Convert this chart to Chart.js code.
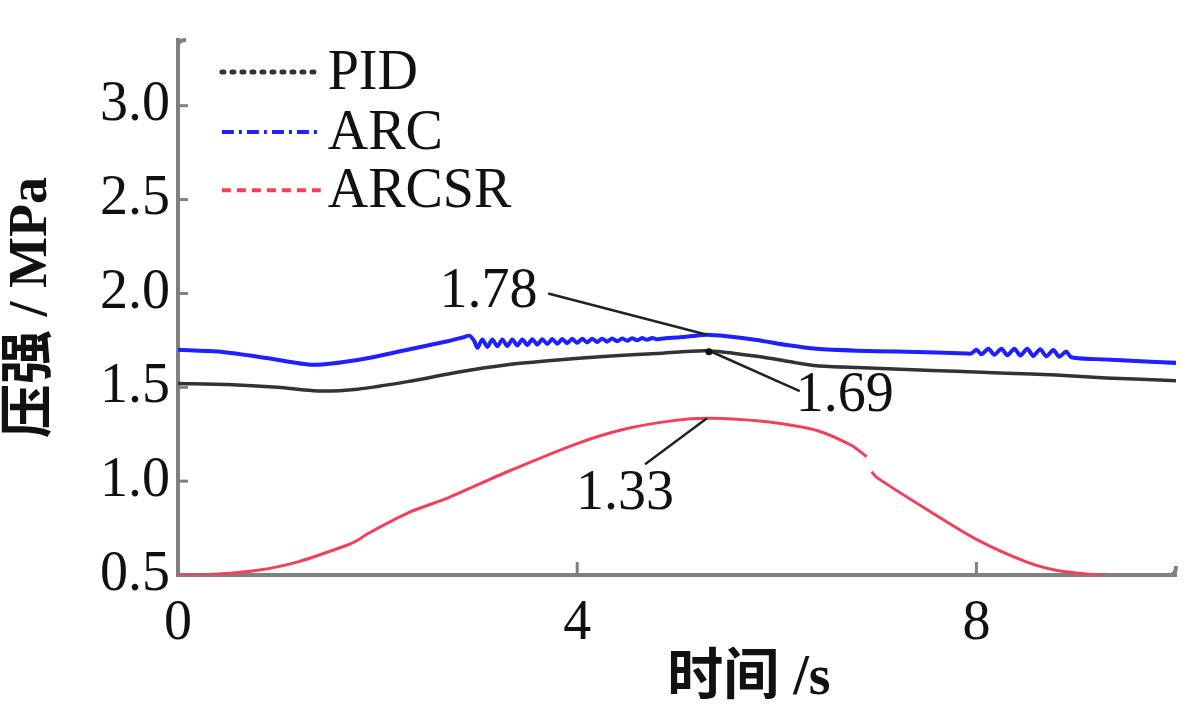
<!DOCTYPE html>
<html>
<head>
<meta charset="utf-8">
<script src="https://cdn.jsdelivr.net/npm/chart.js@4"></script>
<style>
  html, body { margin: 0; padding: 0; background: #fff; }
  #wrap { width: 1200px; height: 711px; }
</style>
</head>
<body>
<div id="wrap"><canvas id="c" width="1200" height="711"></canvas></div>
<script>
// ---------- data ----------
const seriesNames = ['PID', 'ARC', 'ARCSR'];
const xTickValues = [0, 4, 8];
const yTickValues = [0.5, 1.0, 1.5, 2.0, 2.5, 3.0];

const pidX = [0, 0.5, 1.0, 1.4, 1.8, 2.3, 2.8, 3.3, 3.8, 4.3, 4.8, 5.3, 5.8, 6.2, 6.4, 6.8, 7.3, 7.8, 8.3, 8.8, 9.3, 10];
const pidY = [1.52, 1.515, 1.50, 1.48, 1.49, 1.53, 1.58, 1.62, 1.645, 1.665, 1.68, 1.695, 1.665, 1.63, 1.615, 1.605, 1.595, 1.585, 1.575, 1.565, 1.55, 1.535];

const arcX = [0, 0.4, 0.9, 1.35, 1.8, 2.3, 2.7, 2.85, 2.92, 2.97,
  3.00, 3.05, 3.10, 3.15, 3.20, 3.25, 3.30, 3.35, 3.40, 3.45, 3.50, 3.55, 3.60, 3.65, 3.70, 3.75,
  3.80, 3.85, 3.90, 3.95, 4.00, 4.05, 4.10, 4.15, 4.20, 4.25, 4.30, 4.35, 4.40, 4.45, 4.50, 4.55,
  4.60, 4.65, 4.70, 4.75, 4.80, 4.90, 5.00, 5.15, 5.30, 5.50, 5.80, 6.10, 6.40, 6.80, 7.20, 7.60, 7.90,
  7.95, 8.00, 8.05, 8.12, 8.18, 8.25, 8.31, 8.38, 8.44, 8.51, 8.57, 8.64, 8.70, 8.77, 8.83, 8.90, 8.95,
  9.20, 9.60, 10];
const arcY = [1.70, 1.69, 1.655, 1.62, 1.645, 1.70, 1.745, 1.765, 1.775, 1.745,
  1.71, 1.755, 1.715, 1.755, 1.718, 1.755, 1.72, 1.755, 1.722, 1.755, 1.725, 1.756, 1.727, 1.756, 1.73, 1.757,
  1.732, 1.757, 1.735, 1.758, 1.737, 1.758, 1.739, 1.759, 1.741, 1.759, 1.743, 1.76, 1.745, 1.76, 1.748, 1.761,
  1.75, 1.762, 1.753, 1.763, 1.756, 1.762, 1.765, 1.773, 1.78, 1.772, 1.752, 1.725, 1.705, 1.695, 1.69, 1.685, 1.68,
  1.68, 1.70, 1.676, 1.705, 1.673, 1.705, 1.671, 1.705, 1.669, 1.705, 1.667, 1.703, 1.665, 1.698, 1.663, 1.69, 1.66,
  1.65, 1.64, 1.63];

const arcsrX = [0, 0.4, 0.8, 1.2, 1.7, 1.8, 1.9, 2.3, 2.7, 3.3, 4.0, 4.5, 5.0, 5.3, 5.6, 6.0, 6.4, 6.75, 6.9, 6.92, 6.95, 7.0, 7.5, 8.0, 8.5, 8.8, 9.1, 9.3];
const arcsrY = [0.5, 0.505, 0.525, 0.57, 0.66, 0.685, 0.72, 0.83, 0.91, 1.05, 1.20, 1.28, 1.325, 1.335, 1.33, 1.31, 1.27, 1.19, 1.13, null, 1.05, 1.02, 0.85, 0.69, 0.57, 0.525, 0.505, 0.50];

// annotation values (data units)
const noteTexts = ['1.78', '1.69', '1.33'];
const noteAnchorX = [5.3, 5.3, 5.3];
const noteAnchorY = [1.78, 1.70, 1.335];

// ---------- styles ----------
const SERIF = '"Liberation Serif", "Times New Roman", serif';
const CJK = '"Liberation Serif", "Noto Sans CJK SC", serif';
const seriesColors = ['#333333', '#1f1fff', '#f2405c'];
const seriesWidths = [3.5, 4, 3];
const legendDash = [[2, 8], [12, 5, 3, 5], [9, 6]];
const AXIS_COLOR = '#808080';
const FS = 56;

function toPoints(xs, ys) { return xs.map((x, i) => ({x: x, y: ys[i]})); }

// label layout (data-unit positions relative to the scales)
const noteLabelPos = [{x: 3.11, y: 2.005}, {x: 6.68, y: 1.45}, {x: 4.48, y: 0.93}];
const noteLeaderEnd = [{x: 3.71, y: 2.00}, {x: 6.23, y: 1.48}, {x: 4.68, y: 1.09}];

const extras = {
  id: 'extras',
  afterDatasetsDraw(chart) {
    const {ctx, chartArea: a, scales: {x, y}} = chart;
    ctx.save();
    // inward ticks
    ctx.strokeStyle = AXIS_COLOR;
    ctx.lineWidth = 3;
    yTickValues.forEach(v => {
      if (v === y.min) return;
      const py = y.getPixelForValue(v);
      ctx.beginPath(); ctx.moveTo(a.left, py); ctx.lineTo(a.left + 10, py); ctx.stroke();
    });
    xTickValues.forEach(v => {
      if (v === x.min) return;
      const px = x.getPixelForValue(v);
      ctx.beginPath(); ctx.moveTo(px, a.bottom); ctx.lineTo(px, a.bottom - 13); ctx.stroke();
    });
    // axis end hooks
    ctx.lineWidth = 4;
    ctx.beginPath(); ctx.moveTo(a.left, a.top + 6); ctx.quadraticCurveTo(a.left, a.top, a.left + 8, a.top); ctx.stroke();
    ctx.beginPath(); ctx.moveTo(a.right - 6, a.bottom); ctx.quadraticCurveTo(a.right, a.bottom, a.right, a.bottom - 9); ctx.stroke();

    // annotations
    ctx.strokeStyle = '#222';
    ctx.fillStyle = '#111';
    ctx.lineWidth = 2.5;
    ctx.font = FS + 'px ' + SERIF;
    ctx.textAlign = 'center';
    ctx.textBaseline = 'middle';
    noteTexts.forEach((t, i) => {
      const ax = x.getPixelForValue(noteAnchorX[i]), ay = y.getPixelForValue(noteAnchorY[i]);
      const ex = x.getPixelForValue(noteLeaderEnd[i].x), ey = y.getPixelForValue(noteLeaderEnd[i].y);
      ctx.beginPath(); ctx.moveTo(ex, ey); ctx.lineTo(ax, ay); ctx.stroke();
      ctx.fillText(t, x.getPixelForValue(noteLabelPos[i].x), y.getPixelForValue(noteLabelPos[i].y));
    });
    // small dot at 1.69 anchor
    ctx.beginPath();
    ctx.arc(x.getPixelForValue(noteAnchorX[1]) + 2, y.getPixelForValue(noteAnchorY[1]) + 2, 3.5, 0, Math.PI * 2);
    ctx.fill();

    // legend (inside plot, top-left)
    ctx.textAlign = 'left';
    const legendRows = [y.getPixelForValue(3.18), y.getPixelForValue(2.86), y.getPixelForValue(2.55)];
    const lx0 = x.getPixelForValue(0.44), lx1 = x.getPixelForValue(1.43), tx = x.getPixelForValue(1.5);
    chart.data.datasets.forEach((ds, i) => {
      const ly = legendRows[i];
      ctx.strokeStyle = ds.borderColor;
      ctx.lineWidth = i === 0 ? 5 : 4;
      ctx.lineCap = i === 0 ? 'round' : 'butt';
      ctx.setLineDash(legendDash[i]);
      ctx.beginPath(); ctx.moveTo(lx0, ly); ctx.lineTo(lx1, ly); ctx.stroke();
      ctx.setLineDash([]);
      ctx.fillStyle = '#111';
      ctx.fillText(ds.label, tx, ly + 2);
    });

    // x-axis title
    ctx.font = 'bold ' + FS + 'px ' + CJK;
    ctx.textAlign = 'center';
    ctx.fillText('时间 /s', x.getPixelForValue(5.72), 680);
    ctx.restore();
  }
};

new Chart(document.getElementById('c'), {
  type: 'line',
  data: {
    datasets: [
      {label: seriesNames[0], data: toPoints(pidX, pidY)},
      {label: seriesNames[1], data: toPoints(arcX, arcY)},
      {label: seriesNames[2], data: toPoints(arcsrX, arcsrY)}
    ].map((d, i) => Object.assign(d, {
      borderColor: seriesColors[i],
      borderWidth: seriesWidths[i],
      pointRadius: 0,
      tension: 0.25,
      fill: false,
      spanGaps: false
    }))
  },
  options: {
    responsive: false,
    animation: false,
    devicePixelRatio: 1,
    layout: {padding: {top: 40, right: 24, left: 0, bottom: 0}},
    plugins: {legend: {display: false}, tooltip: {enabled: false}},
    scales: {
      x: {
        type: 'linear',
        min: 0, max: 10,
        afterBuildTicks: s => { s.ticks = xTickValues.map(v => ({value: v})); },
        afterFit: s => { s.height = 136; },
        grid: {display: false},
        border: {display: true, color: AXIS_COLOR, width: 4},
        ticks: {color: '#111', padding: 8, maxRotation: 0, font: {family: SERIF, size: FS}}
      },
      y: {
        type: 'linear',
        min: 0.5, max: 3.35,
        afterBuildTicks: s => { s.ticks = yTickValues.map(v => ({value: v})); },
        afterFit: s => { s.width = 178; },
        grid: {display: false},
        border: {display: true, color: AXIS_COLOR, width: 4},
        ticks: {color: '#111', padding: 0, font: {family: SERIF, size: FS},
                callback: v => Number(v).toFixed(1)},
        title: {display: true, text: '压强 / MPa', color: '#111', padding: {top: 0, bottom: 0},
                font: {family: CJK, size: 54, weight: 'bold'}}
      }
    }
  },
  plugins: [extras]
});
</script>
</body>
</html>
